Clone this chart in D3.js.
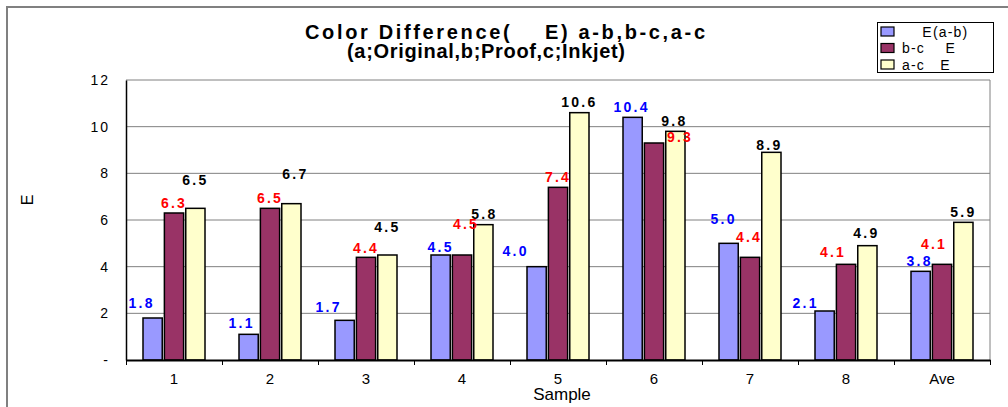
<!DOCTYPE html>
<html><head><meta charset="utf-8">
<script src="https://cdn.jsdelivr.net/npm/d3@7"></script>
<style>
body{margin:0;background:#fff;}
svg text{white-space:pre;}
</style></head>
<body><svg id="c" width="1008" height="407"></svg>
<script>
const categories = ["1","2","3","4","5","6","7","8","Ave"];
const seriesKeys = ["ab","bc","ac"];
const legendLabels = ["    E(a-b)", "b-c    E", "a-c   E"];
const valuesAB = [1.8, 1.1, 1.7, 4.5, 4.0, 10.4, 5.0, 2.1, 3.8];
const valuesBC = [6.3, 6.5, 4.4, 4.5, 7.4, 9.3, 4.4, 4.1, 4.1];
const valuesAC = [6.5, 6.7, 4.5, 5.8, 10.6, 9.8, 8.9, 4.9, 5.9];
const yTicks = [0, 2, 4, 6, 8, 10, 12];
const yTickLabels = ["-", "2", "4", "6", "8", "10", "12"];
const titleLines = ["Color Difference(    E) a-b,b-c,a-c", "(a;Original,b;Proof,c;Inkjet)"];
// manual label nudges (dx, dy in px) as moved in the original chart
const nudgeAB = [[-12,-15],[-8,-11],[-17,-13],[-1,-8],[-22,-16],[-2,-10],[-6,-24],[-20,-8],[-2,-10]];
const nudgeBC = [[-1,-10],[-1,-10],[-1,-9],[3,-31],[-1,-10],[25,-6],[-2,-20],[-14,-12],[-9,-20]];
const nudgeAC = [[-1,-28],[3,-30],[-1,-28],[0,-11],[-1,-11],[-2,-10],[-3,-7],[-2,-13],[-1,-10]];

const seriesValues = {ab: valuesAB, bc: valuesBC, ac: valuesAC};
const seriesNudges = {ab: nudgeAB, bc: nudgeBC, ac: nudgeAC};
const fills = {ab: "#9999FF", bc: "#993366", ac: "#FFFFCC"};
const labelColors = {ab: "#0000FF", bc: "#FF0000", ac: "#000000"};

const svg = d3.select("#c");
const L = 126, R = 990, T = 80, B = 360;

const x0 = d3.scaleBand().domain(categories).range([L, R]).padding(0);
const x1 = d3.scaleBand().domain(seriesKeys).range([17, 79]).paddingInner(0.1).paddingOuter(0);
const y = d3.scaleLinear().domain([0, 12]).range([B, T]);

// outer frame
svg.append("path").attr("d", "M7,407 L7,7 L1008,7").attr("fill", "none").attr("stroke", "#808080").attr("stroke-width", 2);

// gridlines
svg.append("g").selectAll("line").data(yTicks.filter(d => d > 0)).join("line")
  .attr("x1", L).attr("x2", R).attr("y1", d => y(d)).attr("y2", d => y(d))
  .attr("stroke", "#808080").attr("stroke-width", 1);
// right border
svg.append("line").attr("x1", R).attr("x2", R).attr("y1", T).attr("y2", B).attr("stroke", "#808080");

// y axis
const yAxis = svg.append("g").attr("transform", `translate(${L},0)`)
  .call(d3.axisLeft(y).tickValues(yTicks).tickFormat((d, i) => yTickLabels[i]).tickSize(0).tickPadding(16));
yAxis.select(".domain").attr("stroke", "#000").attr("stroke-width", 1.5);
yAxis.selectAll("text").attr("font-family", "Liberation Sans, Arial, sans-serif").attr("font-size", 14).attr("letter-spacing", 2).attr("fill", "#000");

// bars
const groups = svg.append("g").selectAll("g").data(categories).join("g")
  .attr("transform", d => `translate(${x0(d)},0)`);
groups.selectAll("rect").data((c, i) => seriesKeys.map(k => ({k, v: seriesValues[k][i]}))).join("rect")
  .attr("x", d => x1(d.k)).attr("width", x1.bandwidth())
  .attr("y", d => y(d.v)).attr("height", d => y(0) - y(d.v))
  .attr("fill", d => fills[d.k]).attr("stroke", "#000").attr("stroke-width", 1.5);

// x axis: boundary ticks
const xb = d3.scaleLinear().domain([0, categories.length]).range([L, R]);
const xAxisB = svg.append("g").attr("transform", `translate(0,${B})`)
  .call(d3.axisBottom(xb).tickValues(d3.range(categories.length + 1)).tickFormat("").tickSize(5).tickSizeOuter(0));
xAxisB.select(".domain").attr("stroke", "#000").attr("stroke-width", 2);
xAxisB.selectAll(".tick line").attr("stroke", "#000");
const xAxis = svg.append("g").attr("transform", `translate(0,${B})`)
  .call(d3.axisBottom(x0).tickSize(0).tickPadding(13));
xAxis.select(".domain").remove();
xAxis.selectAll("text").attr("font-family", "Liberation Sans Narrow, Arial Narrow, sans-serif").attr("font-size", 15).attr("fill", "#000");

// data labels (a-c first, then b-c, then a-b on top)
["ac", "bc", "ab"].forEach(k => {
  svg.append("g").selectAll("text").data(categories).join("text")
    .attr("x", (c, i) => x0(c) + x1(k) + x1.bandwidth() / 2 + seriesNudges[k][i][0] + 1)
    .attr("y", (c, i) => y(seriesValues[k][i]) + seriesNudges[k][i][1])
    .attr("dy", "0.35em").attr("text-anchor", "middle")
    .attr("font-family", "Liberation Sans, Arial, sans-serif").attr("font-weight", "bold")
    .attr("font-size", 14).attr("letter-spacing", 2.2)
    .attr("fill", labelColors[k])
    .text((c, i) => d3.format(".1f")(seriesValues[k][i]));
});

// title
svg.append("text").attr("x", 305).attr("y", 39)
  .attr("font-family", "Liberation Sans, Arial, sans-serif").attr("font-weight", "bold").attr("font-size", 20)
  .attr("textLength", 400).attr("lengthAdjust", "spacing")
  .text(titleLines[0]);
svg.append("text").attr("x", 347).attr("y", 58)
  .attr("font-family", "Liberation Sans, Arial, sans-serif").attr("font-weight", "bold").attr("font-size", 20)
  .attr("textLength", 278).attr("lengthAdjust", "spacing")
  .text(titleLines[1]);

// axis titles
svg.append("text").attr("transform", "translate(33,200) rotate(-90)").attr("text-anchor", "middle")
  .attr("font-family", "Liberation Sans, Arial, sans-serif").attr("font-size", 16).text("E");
svg.append("text").attr("x", 562).attr("y", 400).attr("text-anchor", "middle")
  .attr("font-family", "Liberation Sans Narrow, Arial Narrow, sans-serif").attr("font-size", 17).text("Sample");

// legend
const lg = svg.append("g");
lg.append("rect").attr("x", 877.5).attr("y", 22.5).attr("width", 116).attr("height", 50)
  .attr("fill", "#fff").attr("stroke", "#000").attr("stroke-width", 1);
const li = lg.selectAll("g").data(seriesKeys).join("g")
  .attr("transform", (d, i) => `translate(881,${27 + i * 16.5})`);
li.append("rect").attr("width", 13).attr("height", 9).attr("fill", d => fills[d]).attr("stroke", "#000").attr("stroke-width", 1.2);
li.append("text").attr("x", 21).attr("y", 5).attr("dy", "0.35em")
  .attr("font-family", "Liberation Sans, Arial, sans-serif").attr("font-size", 14).attr("letter-spacing", 1.2)
  .text((d, i) => legendLabels[i]);
</script></body></html>
